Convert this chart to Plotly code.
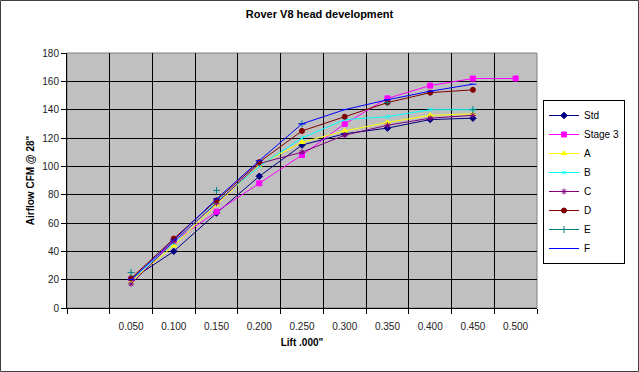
import plotly.graph_objects as go

categories = [" ", "0.050", "0.100", "0.150", "0.200", "0.250", "0.300", "0.350", "0.400", "0.450", "0.500"]

std = [None, 20, 40, 67, 93, 115, 123, 127, 133, 134, None]
stage3 = [None, 20, 47, 68, 88, 108, 130, 148, 157, 162, 162]
a_vals = [None, 19, 44, 73, 101, 117, 125, 131, 136, 137, None]
b_vals = [None, 20, 46, 75, 100, 120, 133, 135, 140, 140, None]
c_vals = [None, 17, 47, 74, 102, 110, 122, 129, 134, 136, None]
d_vals = [None, 21, 49, 76, 103, 125, 135, 145, 152, 154, None]
e_vals = [None, 25, None, 83, None, 130, None, 145, None, 140, None]
f_vals = [None, 20, 48, 77, 104, 130, 140, 147, 153, 158, None]

series = [
    ("Std", std, "#000080", "diamond", 5),
    ("Stage 3", stage3, "#FF00FF", "square", 5),
    ("A", a_vals, "#FFFF00", "triangle-up", 5),
    ("B", b_vals, "#00FFFF", "x-thin-open", 4),
    ("C", c_vals, "#800080", "asterisk-open", 5),
    ("D", d_vals, "#800000", "circle", 5),
    ("E", e_vals, "#008080", "cross-thin-open", 5),
    ("F", f_vals, "#0000FF", "line-ew-open", 5),
]

fig = go.Figure()
for name, vals, color, sym, size in series:
    fig.add_trace(go.Scatter(
        x=categories, y=vals, name=name, mode="lines+markers",
        line=dict(color=color, width=1),
        marker=dict(symbol=sym, size=size, color=color, line=dict(color=color, width=1)),
        connectgaps=False,
    ))

font_family = "Liberation Sans, Arial, sans-serif"

fig.update_layout(
    width=639, height=372,
    margin=dict(l=67, r=102, t=53, b=64, autoexpand=False),
    paper_bgcolor="white",
    plot_bgcolor="#C0C0C0",
    font=dict(family=font_family, size=10, color="#000000"),
    title=dict(text="<b>Rover V8 head development</b>", x=0.5, xanchor="center",
               y=1 - 14 / 372, yanchor="middle", font=dict(size=11, family=font_family)),
    showlegend=True,
    legend=dict(
        x=(543 - 67) / 470, xanchor="left",
        y=(308 - 182) / 255, yanchor="middle",
        bgcolor="white", bordercolor="#000000", borderwidth=1,
        font=dict(size=10, family=font_family),
        itemwidth=30, tracegroupgap=0,
    ),
    xaxis=dict(
        type="category", categoryorder="array", categoryarray=categories,
        range=[-0.5, 10.5], automargin=False,
        tickson="boundaries", ticks="outside", ticklen=5, tickcolor="#000000",
        ticklabelstandoff=9,
        showgrid=True, gridcolor="#000000", gridwidth=1,
        showline=True, linecolor="#000000", linewidth=1,
        zeroline=False,
        title=dict(text="<b>Lift .000\"</b>", font=dict(size=10), standoff=7),
        tickfont=dict(size=10, color="#222222"),
    ),
    yaxis=dict(
        range=[0, 180], dtick=20, tick0=0, automargin=False,
        ticks="outside", ticklen=5, tickcolor="#000000",
        showgrid=True, gridcolor="#000000", gridwidth=1,
        showline=True, linecolor="#000000", linewidth=1,
        zeroline=False,
        title=dict(text="<b>Airflow CFM @ 28\"</b>", font=dict(size=10), standoff=5),
        tickfont=dict(size=10, color="#222222"),
    ),
    shapes=[
        dict(type="rect", xref="paper", yref="paper",
             x0=-66.5 / 470, x1=(638.5 - 67) / 470, y0=-(371.5 - 308) / 255, y1=(308 - 0.5) / 255,
             line=dict(color="#404040", width=1), fillcolor="rgba(0,0,0,0)", layer="above"),
        dict(type="rect", xref="paper", yref="paper", x0=0, x1=1, y0=0, y1=1,
             line=dict(color="#808080", width=1), fillcolor="rgba(0,0,0,0)", layer="below"),
    ],
)

fig.write_html("out.html", config={"displayModeBar": False},
               post_script="document.body.style.margin='0px';document.body.style.overflow='hidden';")
